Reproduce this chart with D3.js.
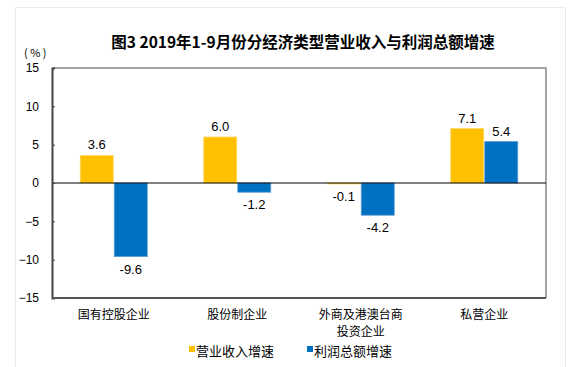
<!DOCTYPE html>
<html>
<head>
<meta charset="utf-8">
<script src="https://cdn.jsdelivr.net/npm/d3@7/dist/d3.min.js"></script>
<style>
  body { margin: 0; background: #fff; }
  svg text { font-family: "Liberation Sans", Arial, sans-serif; }
  .cjk { font-family: "Noto Sans CJK SC", sans-serif; }
</style>
</head>
<body>
<div id="chart"></div>
<script>
// data
var categories = ["国有控股企业", "股份制企业", "外商及港澳台商\n投资企业", "私营企业"];
var seriesNames = ["营业收入增速", "利润总额增速"];
var revenue = [3.6, 6.0, -0.1, 7.1];
var profit = [-9.6, -1.2, -4.2, 5.4];
var yTicks = [-15, -10, -5, 0, 5, 10, 15];
var colors = ["#FFC000", "#0070C0"];
var edges = ["#FFD966", "#5B9BD5"];

var w = 575, h = 367;
var plotL = 52, plotR = 546, plotT = 68, plotB = 298;

var svg = d3.select("#chart").append("svg")
  .attr("width", w).attr("height", h);

// faint outer frame
svg.append("rect")
  .attr("x", 15.5).attr("y", 7.5).attr("width", 550).attr("height", 370)
  .attr("fill", "none").attr("stroke", "#ebebeb");

var y = d3.scaleLinear().domain([-15, 15]).range([plotB, plotT]);
var x = d3.scaleBand().domain(categories).range([plotL, plotR]);
var bw = x.bandwidth();
var x1 = d3.scaleBand().domain(seriesNames)
  .range([bw / 2 - 33.5, bw / 2 + 33.5]).paddingInner(0.03);

// title
svg.append("text").attr("class", "cjk")
  .attr("x", 303).attr("y", 48)
  .attr("text-anchor", "middle")
  .attr("font-size", 15.5).attr("font-weight", "bold")
  .attr("fill", "#000")
  .text("图3  2019年1-9月份分经济类型营业收入与利润总额增速");

svg.append("text").attr("class", "cjk")
  .attr("x", 24).attr("y", 57)
  .attr("font-size", 11)
  .text("( % )");

// plot frame: top & right gray
svg.append("path")
  .attr("d", "M" + plotL + "," + plotT + "H" + plotR + "V" + plotB)
  .attr("fill", "none").attr("stroke", "#888").attr("stroke-width", 1.5);

// bars
var rows = categories.map((c, i) => [
  { cat: c, s: 0, v: revenue[i] },
  { cat: c, s: 1, v: profit[i] }
]);

var groups = svg.selectAll("g.grp")
  .data(rows).enter().append("g")
  .attr("class", "grp")
  .attr("transform", d => "translate(" + x(d[0].cat) + ",0)");

groups.selectAll("rect")
  .data(d => d).enter().append("rect")
  .attr("x", d => x1(seriesNames[d.s]))
  .attr("width", x1.bandwidth())
  .attr("y", d => y(Math.max(0, d.v)))
  .attr("height", d => Math.max(1, Math.abs(y(d.v) - y(0))))
  .attr("fill", d => colors[d.s])
  .attr("stroke", d => edges[d.s])
  .attr("stroke-width", 0.8);

groups.selectAll("text.val")
  .data(d => d).enter().append("text")
  .attr("class", "val")
  .attr("x", d => x1(seriesNames[d.s]) + x1.bandwidth() / 2)
  .attr("y", d => d.v >= 0 ? y(d.v) - 6 : y(d.v) + 17)
  .attr("text-anchor", "middle")
  .attr("font-size", 13)
  .text(d => d.v.toFixed(1));

// zero line
svg.append("line")
  .attr("x1", plotL).attr("x2", plotR)
  .attr("y1", y(0)).attr("y2", y(0))
  .attr("stroke", "#000").attr("stroke-width", 1.2);

// y axis
var yAxis = d3.axisLeft(y).tickValues(yTicks).tickSize(-3).tickPadding(13).tickFormat(d3.format("d"));
var ya = svg.append("g")
  .attr("transform", "translate(" + plotL + ",0)")
  .call(yAxis);
ya.select(".domain").attr("stroke", "#444").attr("stroke-width", 2);
ya.selectAll(".tick line").attr("stroke", "#444");
ya.selectAll(".tick text").attr("font-size", 12).attr("fill", "#000")
  .style("font-family", "'Liberation Sans', Arial, sans-serif");

// bottom line
svg.append("line")
  .attr("x1", plotL).attr("x2", plotR)
  .attr("y1", plotB).attr("y2", plotB)
  .attr("stroke", "#555").attr("stroke-width", 2);

// category labels (one text per category, wrapped with tspans)
categories.forEach(c => {
  var t = svg.append("text").attr("class", "cjk")
    .attr("text-anchor", "middle")
    .attr("font-size", 12);
  c.split("\n").forEach((line, k) => {
    t.append("tspan")
      .attr("x", x(c) + bw / 2)
      .attr("y", 318.5 + k * 17.5)
      .text(line);
  });
});

// legend
var legX = [189, 307];
seriesNames.forEach((s, i) => {
  svg.append("rect")
    .attr("x", legX[i]).attr("y", 346)
    .attr("width", 6).attr("height", 6)
    .attr("fill", colors[i]);
  svg.append("text").attr("class", "cjk")
    .attr("x", legX[i] + 7).attr("y", 356)
    .attr("font-size", 13)
    .text(s);
});
</script>
</body>
</html>
